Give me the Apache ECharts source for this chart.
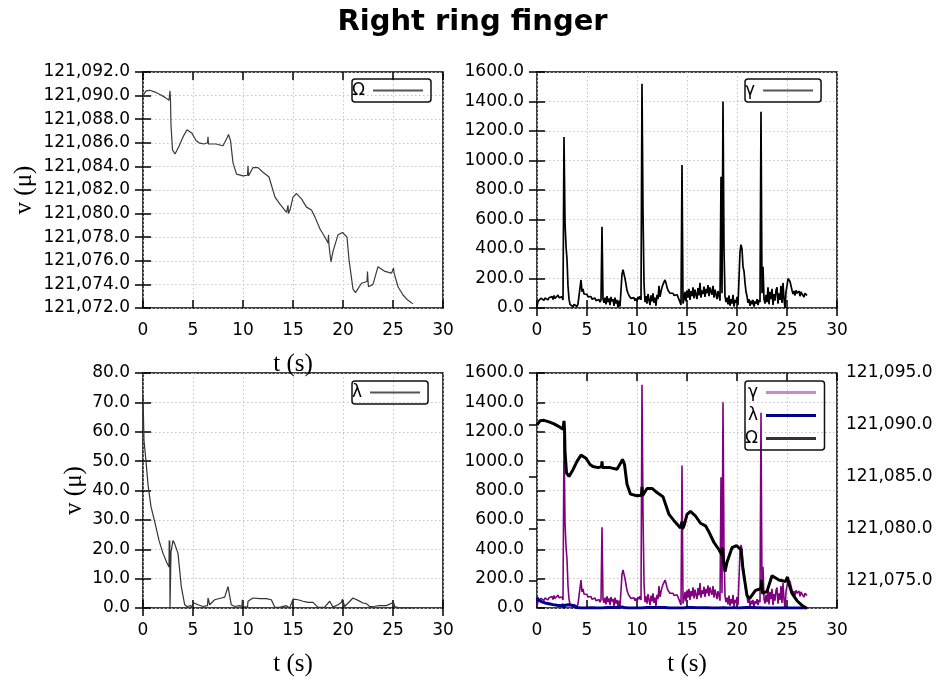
<!DOCTYPE html>
<html>
<head>
<meta charset="utf-8">
<script src="https://cdn.jsdelivr.net/npm/echarts@6/dist/echarts.min.js"></script>
<style>html,body{margin:0;padding:0;background:#fff}#c{width:945px;height:684px}</style>
</head>
<body>
<div id="c"></div>
<script>
// ---- data ----
const titleText = 'Right ring finger';
const xTicks = [0, 30, 5];            // min, max, interval for time axes
const omegaRange = [121072, 121092, 2];
const gammaRange = [0, 1600, 200];
const lambdaRange = [0, 80, 10];
const omega2Range = [121072.4, 121095];
const omega2Ticks = [121075, 121080, 121085, 121090, 121095];

// Omega: [t, value]
const omegaPts = [
 [0,121090.0],[0.3,121090.4],[0.7,121090.45],[1.2,121090.3],[1.7,121090.1],[2.2,121089.85],[2.6,121089.6],
 [2.7,121090.4],[2.75,121089.6],[2.8,121087.5],[2.95,121085.4],[3.2,121085.05],[3.6,121085.7],[4.0,121086.5],
 [4.4,121087.1],[4.9,121086.8],[5.3,121086.2],[5.6,121086.0],[6.1,121085.9],[6.45,121086.0],[6.5,121086.5],
 [6.55,121085.9],[6.75,121085.8],[7.3,121085.9],[8.0,121085.75],[8.45,121086.5],[8.55,121086.7],[8.75,121086.2],
 [9.0,121084.3],[9.35,121083.35],[10.0,121083.2],[10.45,121083.25],[10.5,121084.05],[10.55,121083.2],[11.0,121083.9],
 [11.5,121083.9],[12.0,121083.5],[12.6,121083.1],[13.2,121081.4],[13.7,121080.8],[14.35,121080.1],[14.45,121080.0],
 [14.5,121080.7],[14.55,121080.0],[14.7,121080.3],[15.0,121081.4],[15.35,121081.7],[15.85,121081.25],[16.35,121080.55],
 [16.85,121080.3],[17.2,121079.7],[17.7,121078.7],[18.2,121078.0],[18.5,121077.5],[18.55,121078.2],[18.6,121077.3],
 [18.8,121075.9],[19.0,121076.8],[19.5,121078.2],[19.95,121078.4],[20.4,121078.0],[20.6,121076.1],[21.0,121073.6],
 [21.25,121073.3],[21.85,121074.1],[22.4,121074.25],[22.45,121075.1],[22.5,121074.3],[22.55,121073.8],[22.75,121073.9],
 [23.0,121074.0],[23.5,121075.5],[24.2,121075.1],[24.85,121074.95],[25.0,121075.0],[25.05,121075.4],[25.1,121075.0],
 [25.5,121073.8],[26.0,121073.1],[26.5,121072.65],[27.0,121072.35]
];

// Gamma: one sample every 0.1 s starting at t = 0
const gammaDt = 0.1;
const gammaV = [
 10,45,58,50,66,55,72,52,68,60,
 75,55,70,82,60,78,58,85,64,76,
 60,88,70,80,62,75,55,1160,580,420,
 330,150,60,25,12,30,8,25,15,35,
 10,28,40,20,190,110,130,95,105,88,
 92,75,85,70,78,60,72,55,68,50,
 62,45,58,40,55,550,60,35,70,25,
 80,40,65,20,75,45,60,15,70,30,
 55,5,50,10,0,230,260,270,200,160,
 120,100,85,75,65,60,55,70,50,65,
 45,75,60,80,55,1520,650,170,40,80,
 30,95,55,20,85,45,100,35,70,15,
 90,60,150,75,110,140,160,175,190,170,
 140,120,110,100,95,90,100,85,95,80,
 90,75,85,40,20,970,30,60,110,45,
 120,70,130,55,115,80,140,65,125,90,
 60,135,85,170,70,120,95,145,75,130,
 100,155,80,140,110,90,150,70,125,95,
 60,115,85,50,890,100,1400,400,80,40,
 70,25,85,15,60,30,90,10,55,35,
 75,20,200,380,430,400,280,250,170,110,
 80,35,60,15,50,25,55,10,45,30,
 60,20,55,40,1330,100,280,60,30,90,
 40,140,25,110,60,130,20,95,50,120,
 140,30,100,55,150,35,170,60,0,110,
 150,200,210,180,150,120,95,115,85,120,
 100,90,115,80,110,95,105,75,100,90,
 85
];

// Lambda: [t, value]
const lambdaPts = [
 [0,72],[0.1,57],[0.3,50],[0.5,42],[0.8,34.5],[1.2,29],[1.6,23],[2.0,18.6],[2.4,15.3],[2.6,14],
 [2.62,23],[2.65,14],[2.68,23],[2.7,0],[2.75,0],[2.8,19],[3.0,23],[3.15,22],[3.5,18.6],[3.83,7.3],
 [4.17,1.1],[4.4,0.5],[4.8,0.8],[4.9,0],[5.0,1.9],[5.5,1.1],[6.0,0.5],[6.45,0.8],[6.5,3.4],[6.67,1.1],
 [7.17,2.8],[7.83,3.4],[8.17,3.7],[8.5,7.3],[8.83,1.1],[9.17,0.5],[9.67,0.8],[9.9,0.5],[9.93,2.8],[10.0,0.5],
 [10.17,0.3],[10.45,0.3],[10.5,2.3],[11.0,3.4],[11.67,3.2],[12.33,3.2],[12.83,2.8],[13.17,0.3],[13.67,0.2],[14.33,0.8],
 [14.67,0],[15.0,3.0],[15.5,2.8],[16.0,2.3],[16.5,1.9],[17.0,1.9],[17.5,0.2],[18.17,0.3],[18.67,2.3],[19.0,0.3],
 [19.5,1.1],[19.83,1.9],[19.95,3.0],[20.17,0.5],[21.0,3.4],[21.5,2.6],[22.0,1.7],[22.33,1.5],[22.67,0.5],[23.17,0.6],
 [23.67,0.8],[24.33,0.8],[24.93,1.7],[25.0,2.5],[25.17,0.5],[25.67,0],[27.0,0]
];

// ---- helpers ----
const gammaPts = gammaV.map((v, i) => [Math.round(i * gammaDt * 100) / 100, v]);
function commaFmt(v) {
  const s = Math.abs(v).toFixed(1);
  const parts = s.split('.');
  parts[0] = parts[0].replace(/\B(?=(\d{3})+(?!\d))/g, ',');
  return (v < 0 ? '-' : '') + parts.join('.');
}
const plainFmt = v => v.toFixed(1);

const SANS = 'DejaVu Sans';
const SERIF = 'Liberation Serif';
const labelStyle = {color: '#000', fontFamily: SANS, fontSize: 17};
const splitStyle = {show: true, lineStyle: {color: '#c4c4c4', type: [1.5, 2.5], width: 1}};
const tickStyle = {show: true, inside: true, length: 8, lineStyle: {color: '#000', width: 1.5}};

const grids = [
  {left: 143, top: 72, width: 300, height: 236},
  {left: 537, top: 72, width: 300, height: 236},
  {left: 143, top: 373, width: 300, height: 235},
  {left: 537, top: 373, width: 300, height: 235}
].map(g => Object.assign(g, {show: true, borderColor: '#000', borderWidth: 1.5, backgroundColor: 'transparent'}));

const xAxes = [];
[0, 1, 2, 3].forEach(i => {
  xAxes.push({
    type: 'value', gridIndex: i, min: xTicks[0], max: xTicks[1], interval: xTicks[2],
    axisLine: {show: false}, axisTick: tickStyle, splitLine: splitStyle,
    axisLabel: Object.assign({margin: 14, formatter: v => String(v)}, labelStyle),
    name: i === 1 ? '' : 't (s)', nameLocation: 'middle', nameGap: 44,
    nameTextStyle: {fontFamily: SERIF, fontSize: 25, color: '#000'}
  });
});
[0, 1, 2, 3].forEach(i => {
  xAxes.push({
    type: 'value', gridIndex: i, position: 'top', min: xTicks[0], max: xTicks[1], interval: xTicks[2],
    axisLine: {show: false}, axisTick: tickStyle, splitLine: {show: false}, axisLabel: {show: false}
  });
});

function yAx(grid, range, fmt, extra) {
  return Object.assign({
    type: 'value', gridIndex: grid, min: range[0], max: range[1], interval: range[2],
    axisLine: {show: false}, axisTick: tickStyle, splitLine: splitStyle,
    axisLabel: Object.assign({margin: 13, formatter: fmt}, labelStyle)
  }, extra || {});
}
function yMirror(grid, range) {
  return {
    type: 'value', gridIndex: grid, position: 'right', min: range[0], max: range[1], interval: range[2],
    axisLine: {show: false}, axisTick: tickStyle, splitLine: {show: false}, axisLabel: {show: false}
  };
}
const yNameStyle = {fontFamily: SERIF, fontSize: 25, color: '#000'};
const yAxes = [
  yAx(0, omegaRange, commaFmt, {name: 'v (μ)', nameLocation: 'middle', nameGap: 106, nameTextStyle: yNameStyle}),
  yAx(1, gammaRange, plainFmt),
  yAx(2, lambdaRange, plainFmt, {name: 'v (μ)', nameLocation: 'middle', nameGap: 56, nameTextStyle: yNameStyle}),
  yAx(3, gammaRange, plainFmt),
  {
    type: 'value', gridIndex: 3, position: 'right', min: omega2Range[0], max: omega2Range[1],
    axisLine: {show: false}, splitLine: {show: false},
    axisTick: Object.assign({customValues: omega2Ticks}, tickStyle),
    axisLabel: Object.assign({margin: 9, customValues: omega2Ticks, formatter: commaFmt}, labelStyle)
  },
  yMirror(0, omegaRange),
  yMirror(1, gammaRange),
  yMirror(2, lambdaRange)
];

function legendBox(left, top, items) {
  return {
    left: left, top: top, orient: 'vertical', align: 'right',
    itemWidth: 50, itemHeight: 16, itemGap: 6,
    padding: [3, 7, 3, 0],
    borderColor: '#111', borderWidth: 1.5, borderRadius: 3,
    selectedMode: false,
    textStyle: {color: '#000', fontFamily: SANS, fontSize: 17, padding: [0, 3, 0, 0]},
    data: items.map(it => ({name: it[0], lineStyle: {color: it[1], width: it[2]}, itemStyle: {color: it[1], opacity: 0}}))
  };
}

function line(name, xi, yi, data, color, width) {
  return {
    type: 'line', name: name, xAxisIndex: xi, yAxisIndex: yi, data: data,
    symbol: 'none', showSymbol: false, animation: false,
    lineStyle: {color: color, width: width}, itemStyle: {color: color}
  };
}

const option = {
  backgroundColor: '#fff',
  animation: false,
  title: {text: titleText, left: 'center', top: 3,
    textStyle: {fontFamily: SANS, fontSize: 29, fontWeight: 'bold', color: '#000'}},
  grid: grids,
  xAxis: xAxes,
  yAxis: yAxes,
  legend: [
    legendBox(352, 79, [['Ω', '#555', 2]]),
    legendBox(745, 79, [['γ', '#555', 2]]),
    legendBox(352, 381, [['λ', '#555', 2]]),
    legendBox(745, 381, [['γ', '#cc88cc', 3], ['λ', '#00008b', 3], ['Ω', '#333', 3]])
  ],
  series: [
    line('Ω', 0, 0, omegaPts, '#3a3a3a', 1.2),
    line('γ', 1, 1, gammaPts, '#000', 1.7),
    line('λ', 2, 2, lambdaPts, '#333', 1.2),
    line('γ', 3, 3, gammaPts, '#800080', 1.6),
    line('λ', 3, 3, lambdaPts, '#00008b', 3),
    line('Ω', 3, 4, omegaPts, '#000', 3)
  ]
};

const chart = echarts.init(document.getElementById('c'), null, {renderer: 'canvas'});
chart.setOption(option);
</script>
</body>
</html>
